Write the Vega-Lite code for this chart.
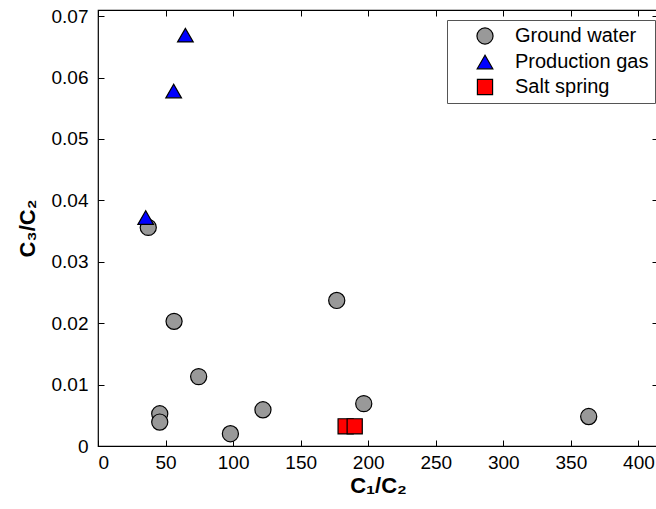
{
  "$schema": "https://vega.github.io/schema/vega-lite/v6.json",
  "autosize": {"type": "none"},
  "padding": {"left": 98, "top": 10, "right": 0, "bottom": 63},
  "width": 560,
  "height": 436,
  "background": "white",
  "config": {
    "view": {"stroke": "black", "strokeWidth": 1.2},
    "font": "Liberation Sans",
    "axis": {
      "domain": false,
      "grid": false,
      "ticks": true,
      "tickColor": "black",
      "tickSize": -6,
      "labelFont": "Liberation Sans",
      "labelFontSize": 19,
      "labelColor": "black",
      "titleFont": "Liberation Sans",
      "titleFontSize": 22,
      "titleFontWeight": "bold",
      "titleColor": "black"
    }
  },
  "data": {
    "values": [
      {"type": "Ground water", "c1c2": 37.2, "c3c2": 0.0356},
      {"type": "Ground water", "c1c2": 56.3, "c3c2": 0.0203},
      {"type": "Ground water", "c1c2": 74.5, "c3c2": 0.0113},
      {"type": "Ground water", "c1c2": 45.7, "c3c2": 0.00525},
      {"type": "Ground water", "c1c2": 45.7, "c3c2": 0.0039},
      {"type": "Ground water", "c1c2": 98, "c3c2": 0.0020},
      {"type": "Ground water", "c1c2": 122.1, "c3c2": 0.0059},
      {"type": "Ground water", "c1c2": 176.7, "c3c2": 0.0237},
      {"type": "Ground water", "c1c2": 196.7, "c3c2": 0.0069},
      {"type": "Ground water", "c1c2": 363.2, "c3c2": 0.0048},
      {"type": "Production gas", "c1c2": 64.7, "c3c2": 0.0669},
      {"type": "Production gas", "c1c2": 56, "c3c2": 0.0578},
      {"type": "Production gas", "c1c2": 35.3, "c3c2": 0.0372},
      {"type": "Salt spring", "c1c2": 183.3, "c3c2": 0.0032},
      {"type": "Salt spring", "c1c2": 190, "c3c2": 0.0032}
    ]
  },
  "layer": [
    {
      "mark": {"type": "point", "filled": true, "stroke": "black", "strokeWidth": 1.2, "opacity": 1},
      "encoding": {
        "x": {
          "field": "c1c2", "type": "quantitative",
          "scale": {"domain": [0, 414.5], "nice": false, "zero": false},
          "axis": {"values": [0, 50, 100, 150, 200, 250, 300, 350, 400], "title": "C₁/C₂", "labelPadding": 13, "titlePadding": 3, "format": "d"}
        },
        "y": {
          "field": "c3c2", "type": "quantitative",
          "scale": {"domain": [0, 0.071], "nice": false, "zero": false},
          "axis": {"values": [0, 0.01, 0.02, 0.03, 0.04, 0.05, 0.06, 0.07], "title": "C₃/C₂", "labelPadding": 16, "titlePadding": 12, "labelExpr": "datum.value == 0 ? '0' : format(datum.value, '.2f')"}
        },
        "fill": {
          "field": "type", "type": "nominal",
          "scale": {"domain": ["Ground water", "Production gas", "Salt spring"], "range": ["#999999", "#0000ff", "#ff0000"]},
          "legend": {
            "title": null,
            "orient": "none",
            "legendX": 349,
            "legendY": 10,
            "direction": "vertical",
            "fillColor": "white",
            "strokeColor": "#555555",
            "padding": 6,
            "labelFontSize": 20,
            "labelFont": "Liberation Sans",
            "labelColor": "black",
            "symbolStrokeColor": "black",
            "symbolStrokeWidth": 1.2,
            "symbolOffset": 22,
            "rowPadding": 5,
            "labelOffset": 20,
            "offset": 0
          }
        },
        "shape": {
          "field": "type", "type": "nominal",
          "scale": {"domain": ["Ground water", "Production gas", "Salt spring"], "range": ["circle", "triangle-up", "square"]}
        },
        "size": {
          "field": "type", "type": "nominal",
          "scale": {"domain": ["Ground water", "Production gas", "Salt spring"], "range": [260, 230, 118]}
        }
      }
    },
    {
      "mark": {"type": "point", "opacity": 0},
      "encoding": {
        "x": {
          "field": "c1c2", "type": "quantitative",
          "scale": {"domain": [0, 414.5], "nice": false, "zero": false},
          "axis": {"orient": "top", "values": [0, 50, 100, 150, 200, 250, 300, 350, 400], "labels": false, "title": null}
        },
        "y": {
          "field": "c3c2", "type": "quantitative",
          "scale": {"domain": [0, 0.071], "nice": false, "zero": false},
          "axis": {"orient": "right", "values": [0, 0.01, 0.02, 0.03, 0.04, 0.05, 0.06, 0.07], "labels": false, "title": null}
        }
      }
    }
  ],
  "resolve": {"axis": {"x": "independent", "y": "independent"}}
}
